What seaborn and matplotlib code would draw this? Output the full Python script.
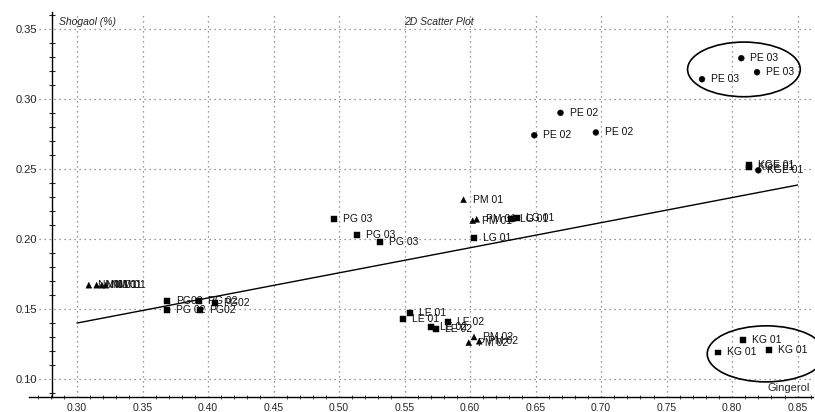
import matplotlib
matplotlib.use("Agg")
import matplotlib.pyplot as plt
from matplotlib.patches import Ellipse
from matplotlib.ticker import MultipleLocator, FormatStrFormatter
import numpy as np
import pandas as pd
import seaborn as sns

# sample points: label, gingerol (x), shogaol (y), marker shape
labels = ["NM 01", "NM 01", "NM 01", "NM 01",
          "PG02", "PG 02", "PG 02", "PG02", "PG02",
          "PG 03", "PG 03", "PG 03",
          "PM 01", "PM 01", "PM 01",
          "LG 01", "LG 01", "LG 01",
          "LE 01", "LE 01",
          "LE 02", "LE 02", "LE 02",
          "PM 02", "PM 02", "PM 02",
          "PE 02", "PE 02", "PE 02",
          "PE 03", "PE 03", "PE 03",
          "KGE 01", "KGE 01", "KGE 01",
          "KG 01", "KG 01", "KG 01"]
gingerol = [0.309, 0.315, 0.319, 0.322,
            0.369, 0.369, 0.393, 0.394, 0.405,
            0.496, 0.514, 0.531,
            0.595, 0.602, 0.605,
            0.631, 0.636, 0.603,
            0.549, 0.554,
            0.570, 0.574, 0.583,
            0.603, 0.599, 0.607,
            0.669, 0.649, 0.696,
            0.807, 0.777, 0.819,
            0.813, 0.813, 0.820,
            0.808, 0.789, 0.828]
shogaol = [0.167, 0.167, 0.167, 0.167,
           0.156, 0.149, 0.156, 0.149, 0.154,
           0.214, 0.203, 0.198,
           0.228, 0.213, 0.214,
           0.214, 0.215, 0.201,
           0.143, 0.147,
           0.137, 0.136, 0.141,
           0.130, 0.126, 0.127,
           0.290, 0.274, 0.276,
           0.329, 0.314, 0.319,
           0.253, 0.251, 0.249,
           0.128, 0.119, 0.121]
shape = (["triangle"] * 4 + ["square"] * 5 + ["square"] * 3 + ["triangle"] * 3
         + ["square"] * 3 + ["square"] * 2 + ["square"] * 3 + ["triangle"] * 3
         + ["circle"] * 3 + ["circle"] * 3 + ["square", "square", "circle"]
         + ["square"] * 3)

# fitted line end points
line_x = [0.30, 0.85]
line_y = [0.140, 0.2385]

# ellipses around groups: centre x, centre y, width, height
ellipse_pe03 = (0.809, 0.321, 0.086, 0.039)
ellipse_kg01 = (0.826, 0.118, 0.090, 0.040)

sns.set_style("white")
plt.rcParams["font.family"] = ["Liberation Sans Narrow", "Liberation Sans", "DejaVu Sans"]

df = pd.DataFrame({"label": labels, "gingerol": gingerol, "shogaol": shogaol, "shape": shape})

fig = plt.figure(figsize=(8.15, 4.12), dpi=100)
ax = fig.add_axes([0.035, 0.036, 0.963, 0.935])

sns.scatterplot(data=df, x="gingerol", y="shogaol", style="shape",
                markers={"square": "s", "triangle": "^", "circle": "o"},
                color="black", edgecolor="black", s=18, linewidth=0.3,
                legend=False, ax=ax, zorder=3)
sns.lineplot(x=line_x, y=line_y, color="black", linewidth=1.0, ax=ax)

for lab, gx, sy in zip(df["label"], df["gingerol"], df["shogaol"]):
    ax.annotate(lab, (gx, sy), xytext=(6.5, 0), textcoords="offset points",
                ha="left", va="center", fontsize=7.5, color="#111111")

for cx, cy, w, h in [ellipse_pe03, ellipse_kg01]:
    ax.add_patch(Ellipse((cx, cy), w, h, fill=False, edgecolor="black", linewidth=1.2, clip_on=False))

ax.set_xlim(0.263, 0.862)
ax.set_ylim(0.0871, 0.362)
ax.set_xticks(np.arange(0.30, 0.851, 0.05))
ax.set_yticks(np.arange(0.10, 0.351, 0.05))
ax.xaxis.set_minor_locator(MultipleLocator(0.01))
ax.yaxis.set_minor_locator(MultipleLocator(0.01))
ax.xaxis.set_major_formatter(FormatStrFormatter("%.2f"))
ax.yaxis.set_major_formatter(FormatStrFormatter("%.2f"))
ax.tick_params(axis="y", which="major", direction="out", length=8.5, width=1.0, labelsize=8, pad=2)
ax.tick_params(axis="y", which="minor", direction="inout", length=4, width=0.8, left=True)
ax.tick_params(axis="x", which="major", direction="out", length=3, width=1.0, labelsize=7.5, pad=1)
ax.tick_params(axis="x", which="minor", direction="inout", length=3, width=0.6, bottom=True)

ax.grid(True, which="major", linestyle=(0, (1, 3)), color="#777777", linewidth=0.9)
ax.set_axisbelow(True)

for side in ["top", "right"]:
    ax.spines[side].set_visible(False)
ax.spines["left"].set_position(("data", 0.281))
for side in ["left", "bottom"]:
    ax.spines[side].set_linewidth(1.0)
    ax.spines[side].set_color("black")

ax.set_xlabel("")
ax.set_ylabel("")
ax.text(0.286, 0.355, "Shogaol (%)", style="italic", fontsize=7.5, ha="left", va="center")
ax.text(0.576, 0.355, "2D Scatter Plot", style="italic", fontsize=7.5, ha="center", va="center")
ax.text(0.8595, 0.0936, "Gingerol", fontsize=8, ha="right", va="center")

fig.savefig("out.png", dpi=100)
